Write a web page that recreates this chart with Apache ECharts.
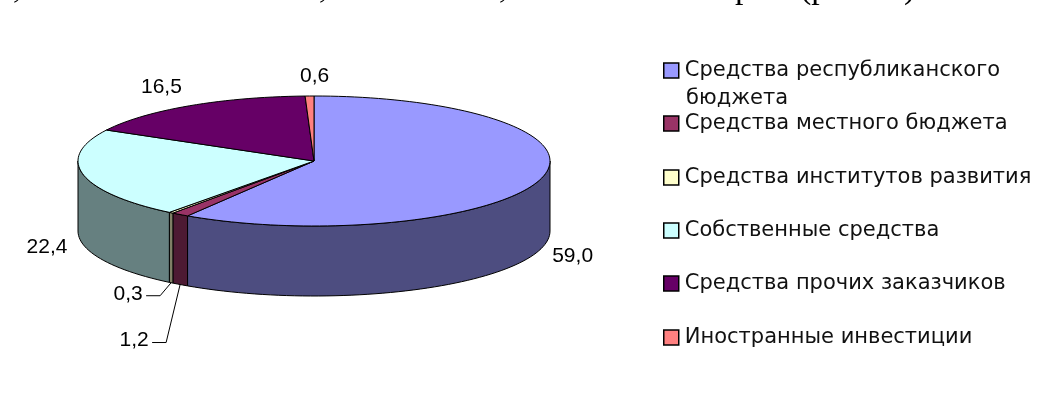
<!DOCTYPE html>
<html>
<head>
<meta charset="utf-8">
<style>
html,body{margin:0;padding:0;background:#fff;}
#chart{width:1045px;height:412px;}
</style>
<script src="https://cdn.jsdelivr.net/npm/echarts@6/dist/echarts.min.js"></script>
</head>
<body>
<div id="chart"></div>
<script>
var categories = ['Средства республиканского', 'Средства местного бюджета', 'Средства институтов развития', 'Собственные средства', 'Средства прочих заказчиков', 'Иностранные инвестиции'];
var values = [59.0, 1.2, 0.3, 22.4, 16.5, 0.6];
var valueLabels = ['59,0', '1,2', '0,3', '22,4', '16,5', '0,6'];
var topColors = ['#9999FF', '#993366', '#FFFFCC', '#CCFFFF', '#660066', '#FF8080'];
var sideColors = ['#4D4D80', '#4D1A33', '#808066', '#668080', '#330033', '#804040'];

// pie geometry
var cx = 314, cy = 161, rx = 236, ry = 65, depth = 70;
var font = 'Liberation Sans';
var legendFont = 'DejaVu Sans';
// label offset from the slice's outer edge
var labelOffsets = [[32, 7], [-46, 56], [-43, 11], [-36, 3], [-28, -19], [5, -20]];
var legendTops = [60, 113, 167, 220, 273, 327];
// bottom of the line of body text that the picture's top edge cuts off
var cutText = [[13, ','], [319, ','], [499, ','], [735, 'р'], [800, '(р'], [904, ')']];

var total = values.reduce(function (a, b) { return a + b; }, 0);

function pt(deg, dy) {
    var a = deg * Math.PI / 180;
    return [cx + rx * Math.sin(a), cy - ry * Math.cos(a) + (dy || 0)];
}

function arc(from, to, dy) {
    var pts = [];
    var n = Math.max(2, Math.ceil((to - from) / 2));
    for (var i = 0; i <= n; i++) {
        pts.push(pt(from + (to - from) * i / n, dy));
    }
    return pts;
}

function makeRender(idx) {
    return function (params, api) {
        var before = 0;
        for (var i = 0; i < idx; i++) before += values[i];
        var start = before / total * 360;
        var end = (before + api.value(0)) / total * 360;
        var children = [];

        // visible wall is the front half only
        var s = Math.max(start, 90), e = Math.min(end, 270);
        if (e > s) {
            children.push({
                type: 'polygon',
                z2: 1,
                shape: { points: arc(s, e, 0).concat(arc(s, e, depth).reverse()) },
                style: { fill: sideColors[idx], stroke: '#000', lineWidth: 1 }
            });
        }
        children.push({
            type: 'polygon',
            z2: 5,
            shape: { points: [[cx, cy]].concat(arc(start, end, 0)) },
            style: { fill: topColors[idx], stroke: '#000', lineWidth: 1, lineJoin: 'round' }
        });

        // value label, with a leader line for the two thin slices
        var mid = (start + end) / 2;
        var anchor = pt(mid, mid > 90 && mid < 270 ? depth : 0);
        var off = labelOffsets[idx];
        var lx = anchor[0] + off[0], ly = anchor[1] + off[1];
        if (idx === 1 || idx === 2) {
            children.push({
                type: 'polyline',
                z2: 6,
                shape: { points: [anchor, [lx + 32, ly + 2], [lx + 18, ly + 2]] },
                style: { fill: null, stroke: '#000', lineWidth: 1 }
            });
        }
        children.push({
            type: 'text',
            z2: 7,
            style: {
                x: lx, y: ly, text: valueLabels[idx], fill: '#000',
                font: '21px "' + font + '"', align: 'center', verticalAlign: 'middle'
            }
        });
        return { type: 'group', children: children };
    };
}

var myChart = echarts.init(document.getElementById('chart'));

var option = {
    animation: false,
    backgroundColor: '#fff',
    legend: categories.map(function (name, i) {
        return {
            data: [name],
            left: 663,
            top: legendTops[i],
            padding: 0,
            itemWidth: 15,
            itemHeight: 15,
            itemGap: 0,
            icon: 'rect',
            selectedMode: false,
            itemStyle: { borderColor: '#000', borderWidth: 1.5 },
            textStyle: { color: '#111', fontFamily: legendFont, fontSize: 21, padding: [0, 0, 0, 1] }
        };
    }),
    series: categories.map(function (name, i) {
        return {
            name: name,
            type: 'custom',
            coordinateSystem: 'none',
            silent: true,
            itemStyle: { color: topColors[i] },
            renderItem: makeRender(i),
            data: [[values[i]]]
        };
    }),
    graphic: [
        // second line of the first legend entry
        { type: 'text', x: 686, y: 88, style: { text: 'бюджета', fill: '#111', font: '21px "' + legendFont + '"' } }
    ].concat(cutText.map(function (t) {
        return { type: 'text', x: t[0], y: -28, style: { text: t[1], fill: '#000', font: '34px "Liberation Serif"' } };
    }))
};
myChart.setOption(option);
</script>
</body>
</html>
